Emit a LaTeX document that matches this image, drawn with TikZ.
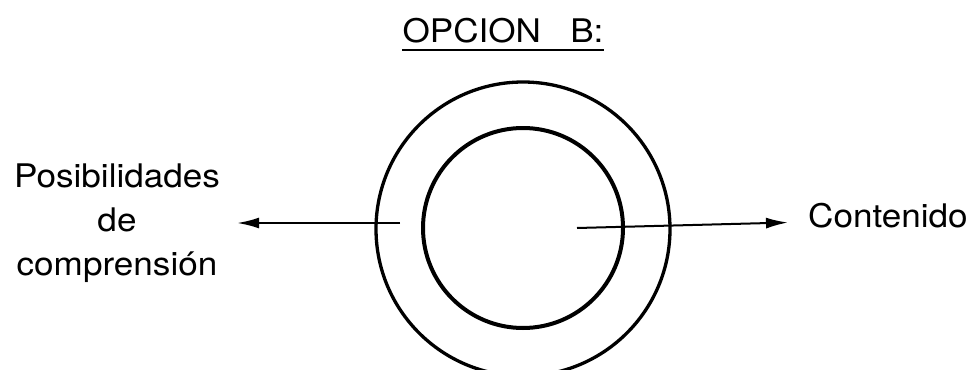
\documentclass[tikz,border=0pt]{standalone}
\usepackage{fontspec}
\setmainfont[FakeStretch=1.08]{TeX Gyre Heros}
\usetikzlibrary{arrows.meta,positioning}

\begin{document}
\begin{tikzpicture}[
        x=1pt, y=-1pt,
        % Estilos
        ring/.style={circle, draw, inner sep=0pt},
        rotulo/.style={font=\fontsize{32.5}{44}\selectfont, align=center, inner sep=0pt},
        arrow/.style={-{Latex[length=22pt,width=11pt]}, line width=2pt}
    ]
        \useasboundingbox (0,0) rectangle (973,369);

        % Titulo subrayado
        \node (titulo) [rotulo, anchor=base] at (503,43) {OPCION\hspace{0.9em}B:};
        \draw [line width=2pt] ([yshift=-7pt]titulo.base west) -- ([yshift=-7pt]titulo.base east);

        % Circulos
        \node (externo) [ring, minimum size=294pt, line width=3.3pt] at (523,229) {};
        \node (interno) [ring, minimum size=200pt, line width=4pt] at (523,228) {};

        % Textos laterales
        \node (posib) [rotulo, anchor=base] at (117,275) {Posibilidades\\de\\comprensión};
        \node (contenido) [rotulo, anchor=base west] at (808,227) {Contenido};

        % --- Flechas ---
        \coordinate (izq) at (400,223);
        \coordinate (der) at (577,228);
        \draw [arrow, shorten >=17pt] (izq) -- (posib.east |- izq);
        \draw [arrow, shorten >=20pt] (der) -- ([yshift=5pt]contenido.base west);

    \end{tikzpicture}
\end{document}
